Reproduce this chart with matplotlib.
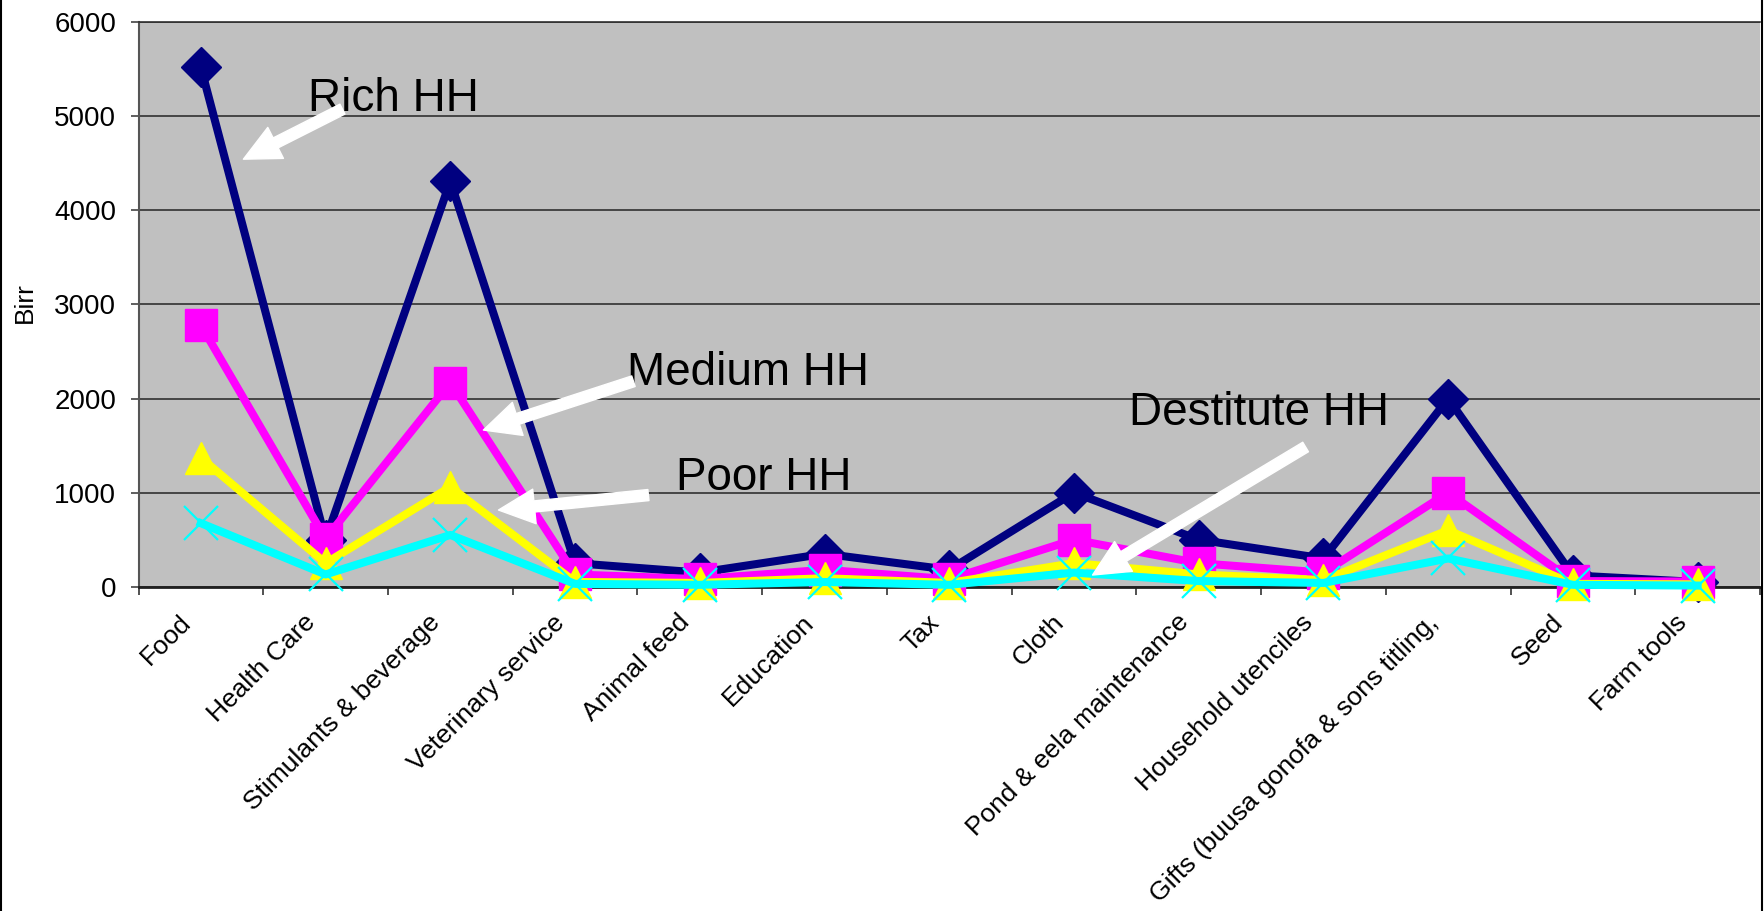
import numpy as np
import matplotlib
matplotlib.use('Agg')
from matplotlib import pyplot as plt
from matplotlib.lines import Line2D
from matplotlib.transforms import ScaledTranslation

plt.rcParams['font.family'] = ['Liberation Sans', 'DejaVu Sans']

categories = ['Food', 'Health Care', 'Stimulants & beverage', 'Veterinary service', 'Animal feed',
              'Education', 'Tax', 'Cloth', 'Pond & eela maintenance', 'Household utenciles',
              'Gifts (buusa gonofa & sons titling,', 'Seed', 'Farm tools']
rich_hh = [5520, 500, 4310, 250, 150, 350, 180, 1000, 500, 300, 2000, 120, 50]
medium_hh = [2780, 510, 2170, 130, 80, 180, 80, 500, 250, 150, 1000, 60, 55]
poor_hh = [1370, 250, 1060, 50, 40, 90, 40, 250, 130, 70, 600, 30, 25]
destitute_hh = [675, 130, 550, 30, 20, 50, 20, 150, 60, 40, 300, 20, 12]
y_ticks = [0, 1000, 2000, 3000, 4000, 5000, 6000]

W, H = 1764, 911
fig = plt.figure(figsize=(W / 100, H / 100), dpi=100)
ax = fig.add_axes([138.5 / W, (H - 586.7) / H, (1760 - 138.5) / W, (586.7 - 22.2) / H])
ax.set_facecolor('#c0c0c0')

x = np.arange(len(categories))
# series drawn in order, later ones on top (like excel)
ax.plot(x, rich_hh, color='#000080', lw=5.8, marker='D', ms=20, mfc='#000080', mec='#000080', clip_on=False, zorder=3)
ax.plot(x, medium_hh, color='#ff00ff', lw=5.8, marker='s', ms=23, mfc='#ff00ff', mec='#ff00ff', clip_on=False, zorder=4)
ax.plot(x, poor_hh, color='#ffff00', lw=5.8, marker='^', ms=23, mfc='#ffff00', mec='#ffff00', clip_on=False, zorder=5)
ax.plot(x, destitute_hh, color='#00ffff', lw=5.8, marker='x', ms=25, mew=1.6, mec='#00ffff', clip_on=False, zorder=6)

ax.set_xlim(-0.5, len(categories) - 0.5)
ax.set_ylim(0, 6000)
ax.set_yticks(y_ticks)
ax.grid(axis='y', color='#303030', lw=1.2)
ax.set_axisbelow(True)
ax.tick_params(axis='y', labelsize=20, length=6, width=1.2, color='#444444', pad=10)

# category labels at centers, tick marks at boundaries
ax.set_xticks(x)
ax.set_xticklabels(categories, rotation=45, ha='right', va='center', rotation_mode='anchor', fontsize=19)
ax.tick_params(axis='x', which='major', length=0, pad=23)
ax.set_xticks(np.arange(-0.5, len(categories), 1), minor=True)
ax.tick_params(axis='x', which='minor', length=6, width=1.2, color='#333333')
shift = ScaledTranslation(-14 / 100, 0, fig.dpi_scale_trans)
for lbl in ax.get_xticklabels():
    lbl.set_transform(lbl.get_transform() + shift)

ax.spines['right'].set_visible(False)
ax.spines['top'].set_color('#303030')
ax.spines['top'].set_linewidth(1.2)
ax.spines['left'].set_color('#555555')
ax.spines['left'].set_linewidth(1.5)
ax.spines['bottom'].set_color('#202020')
ax.spines['bottom'].set_linewidth(2)

fig.text(24.5 / W, 1 - 303 / H, 'Birr', rotation=90, ha='center', va='center', fontsize=19)

# labels with white arrows (text x, baseline y, arrow tail, arrow tip)
notes = [
    ('Rich HH', 0.862, 5055, (1.135, 5076), (0.341, 4544)),
    ('Medium HH', 3.42, 2142, (3.468, 2184), (2.265, 1665)),
    ('Poor HH', 3.813, 1028, (3.588, 974), (2.386, 815)),
    ('Destitute HH', 7.438, 1718, (8.857, 1485), (7.149, 124)),
]
for txt, tx, ty, tail, tip in notes:
    ax.text(tx, ty, txt, fontsize=33, ha='left', va='baseline', zorder=8)
    ax.annotate('', xy=tip, xytext=tail, zorder=9,
                arrowprops=dict(facecolor='white', edgecolor='white', width=8, headwidth=25,
                                headlength=26, shrink=0))

# chart area border, cut off at left and right
fig.add_artist(Line2D([1 / W, 1 / W], [0, 1], transform=fig.transFigure, color='black', lw=1.5))
fig.add_artist(Line2D([1762 / W, 1762 / W], [0, 1], transform=fig.transFigure, color='black', lw=1.5))

plt.savefig('out.png', dpi=100)
